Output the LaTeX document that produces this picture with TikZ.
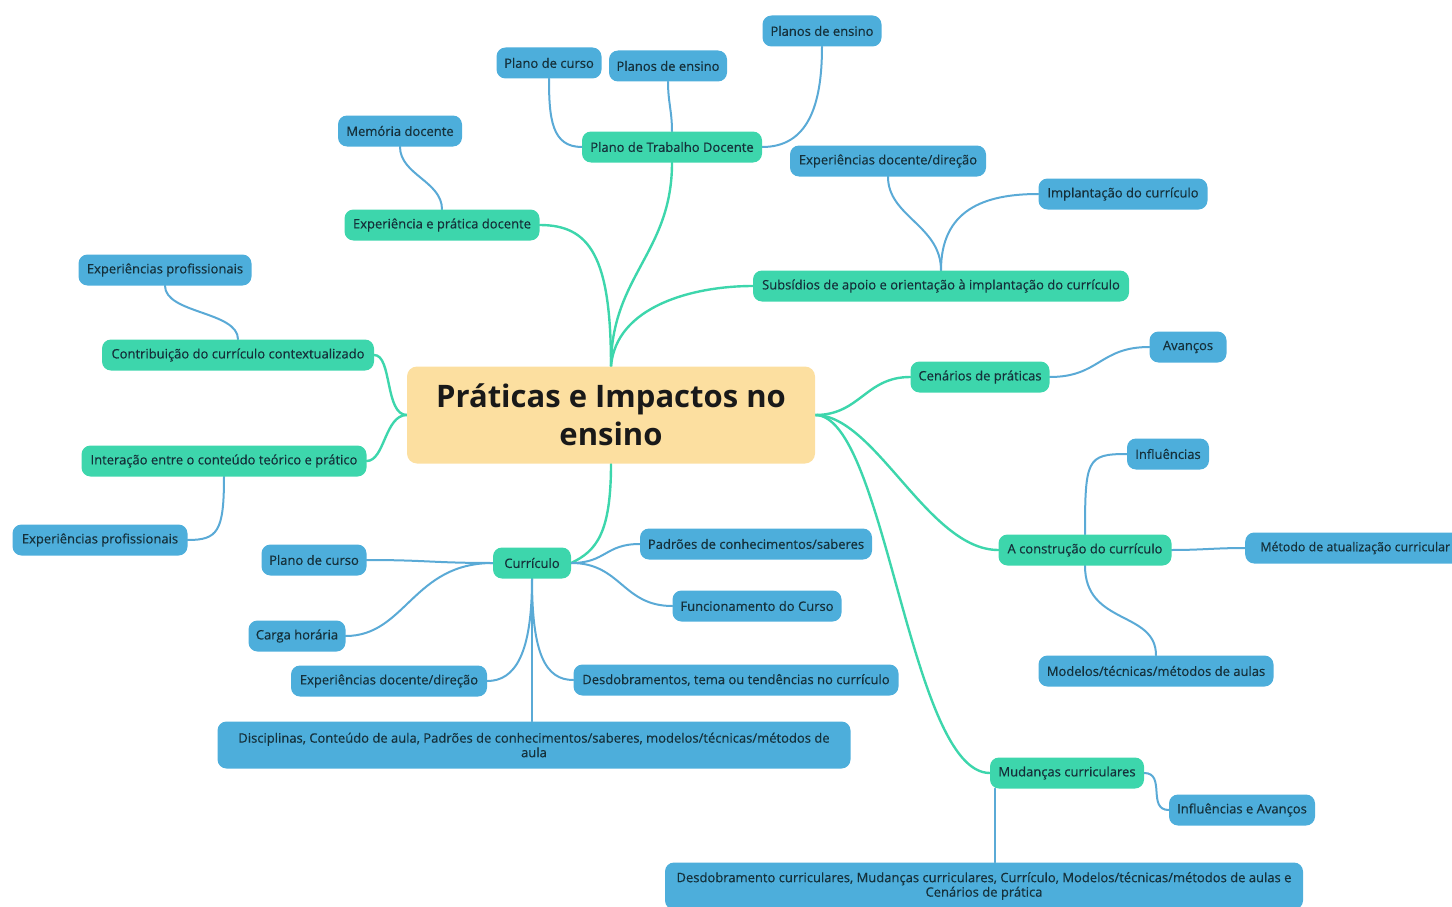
\documentclass[tikz,border=0pt]{standalone}
\usepackage{fontspec}
\setmainfont{Open Sans}
\newfontfamily\nodefont[FakeBold=0.35]{Open Sans}
\usetikzlibrary{backgrounds}
\definecolor{gfill}{HTML}{3DD6AC}
\definecolor{bfill}{HTML}{4DAEDB}
\definecolor{rfill}{HTML}{FCDFA0}
\definecolor{gline}{HTML}{3DD6AC}
\definecolor{bline}{HTML}{5AAAD6}
\definecolor{tcol}{HTML}{15303A}
\tikzset{
  base/.style={rounded corners=9pt, minimum height=31pt, inner xsep=6pt, inner ysep=3pt, text=tcol, font=\nodefont\fontsize{13}{15}\selectfont, align=center},
  gn/.style={base, fill=gfill},
  bn/.style={base, fill=bfill},
  gcon/.style={draw=gline, line width=2.4pt, line cap=round},
  bcon/.style={draw=bline, line width=2pt, line cap=round},
}
\begin{document}
\begin{tikzpicture}[x=1pt,y=-1pt]
\useasboundingbox (0,0) rectangle (1452,907);
% root
\node[fill=rfill, rounded corners=10pt, minimum width=408pt, minimum height=97pt, align=center, font=\fontsize{31}{38}\selectfont\bfseries, text=black!90] (root) at (611,415) {Práticas e Impactos no\\ensino};
% green nodes
\node[gn, minimum width=180] (ptd) at (672,147) {Plano de Trabalho Docente};
\node[gn, minimum width=195] (exp) at (442,225) {Experiência e prática docente};
\node[gn, minimum width=376] (sub) at (941,286) {Subsídios de apoio e orientação à implantação do currículo};
\node[gn, minimum width=272] (con) at (238,355) {Contribuição do currículo contextualizado};
\node[gn, minimum width=285] (int) at (224,461) {Interação entre o conteúdo teórico e prático};
\node[gn, minimum width=139] (cen) at (980,377) {Cenários de práticas};
\node[gn, minimum width=173] (cons) at (1085,550) {A construção do currículo};
\node[gn, minimum width=78] (cur) at (532,563) {Currículo};
\node[gn, minimum width=154] (mud) at (1067,773) {Mudanças curriculares};
% blue nodes
\node[bn, minimum width=105] (pc1) at (549,63) {Plano de curso};
\node[bn, minimum width=118] (pe1) at (668,66) {Planos de ensino};
\node[bn, minimum width=119] (pe2) at (822,31) {Planos de ensino};
\node[bn, minimum width=124] (mem) at (400,131) {Memória docente};
\node[bn, minimum width=196] (exd1) at (888,161) {Experiências docente/direção};
\node[bn, minimum width=169] (imp) at (1123,194) {Implantação do currículo};
\node[bn, minimum width=173] (ep1) at (165,270) {Experiências profissionais};
\node[bn, minimum width=77] (av) at (1188,347) {Avanços};
\node[bn, minimum width=82] (inf) at (1168,454) {Influências};
\node[bn, minimum width=220, anchor=west, inner xsep=7pt, font=\nodefont\fontsize{12.4}{15}\selectfont] (met) at (1245,548) {Método de atualização curricular};
\node[bn, minimum width=175] (ep2) at (100,540) {Experiências profissionais};
\node[bn, minimum width=105] (pc2) at (314,560) {Plano de curso};
\node[bn, minimum width=232] (pad) at (756,544) {Padrões de conhecimentos/saberes};
\node[bn, minimum width=169] (fun) at (757,606) {Funcionamento do Curso};
\node[bn, minimum width=97] (ch) at (297,636) {Carga horária};
\node[bn, minimum width=196] (exd2) at (389,681) {Experiências docente/direção};
\node[bn, minimum width=325] (des) at (736,680) {Desdobramentos, tema ou tendências no currículo};
\node[bn, minimum width=633, minimum height=47pt, font=\nodefont\fontsize{13}{14.5}\selectfont] (dis) at (534,745) {Disciplinas, Conteúdo de aula, Padrões de conhecimentos/saberes, modelos/técnicas/métodos de\\aula};
\node[bn, minimum width=235] (mod) at (1156,671) {Modelos/técnicas/métodos de aulas};
\node[bn, minimum width=146] (ia) at (1242,810) {Influências e Avanços};
\node[bn, minimum width=638, minimum height=47pt, font=\nodefont\fontsize{13}{14.5}\selectfont] (dd) at (984,886) {Desdobramento curriculares, Mudanças curriculares, Currículo, Modelos/técnicas/métodos de aulas e\\Cenários de prática};
\begin{pgfonlayer}{background}
% root connectors
\draw[gcon] (root.north) .. controls +(0,-90) and +(0,90) .. (ptd.south);
\draw[gcon] (root.north) .. controls +(0,-110) and +(50,0) .. (exp.east);
\draw[gcon] (root.north) .. controls +(5,-60) and +(-60,0) .. (sub.west);
\draw[gcon] (root.west) .. controls +(-22,0) and +(18,0) .. (con.east);
\draw[gcon] (root.west) .. controls +(-22,0) and +(18,0) .. (int.east);
\draw[gcon] (root.east) .. controls +(45,0) and +(-45,0) .. (cen.west);
\draw[gcon] (root.east) .. controls +(60,0) and +(-70,0) .. (cons.west);
\draw[gcon] (root.east) .. controls +(70,0) and +(-80,0) .. (mud.west);
\draw[gcon] (root.south) .. controls +(0,70) and +(25,-12) .. (cur.east);
% blue connectors
\draw[bcon] (ptd.west) .. controls +(-30,0) and +(0,40) .. (pc1.south);
\draw[bcon] (ptd.north) .. controls +(0,-20) and +(0,20) .. (pe1.south);
\draw[bcon] (ptd.east) .. controls +(45,0) and +(0,60) .. (pe2.south);
\draw[bcon] (exp.north) .. controls +(0,-28) and +(0,28) .. (mem.south);
\draw[bcon] (sub.north) .. controls +(0,-45) and +(0,40) .. (exd1.south);
\draw[bcon] (sub.north) .. controls +(0,-60) and +(-55,0) .. (imp.west);
\draw[bcon] (con.north) .. controls +(0,-28) and +(0,28) .. (ep1.south);
\draw[bcon] (int.south) .. controls +(0,55) and +(30,0) .. (ep2.east);
\draw[bcon] (cen.east) .. controls +(50,0) and +(-50,0) .. (av.west);
\draw[bcon] (cons.north) .. controls +(0,-75) and +(-40,0) .. (inf.west);
\draw[bcon] (cons.east) .. controls +(30,0) and +(-30,0) .. (met.west);
\draw[bcon] (cons.south) .. controls +(0,60) and +(0,-45) .. (mod.north);
\draw[bcon] (cur.west) .. controls +(-60,0) and +(60,0) .. (pc2.east);
\draw[bcon] (cur.west) .. controls +(-80,0) and +(60,0) .. (ch.east);
\draw[bcon] (cur.south) .. controls +(0,75) and +(28,0) .. (exd2.east);
\draw[bcon] (cur.south) -- (cur.south |- dis.north);
\draw[bcon] (cur.south) .. controls +(0,75) and +(-28,0) .. (des.west);
\draw[bcon] (cur.east) .. controls +(35,0) and +(-35,0) .. (pad.west);
\draw[bcon] (cur.east) .. controls +(50,0) and +(-50,0) .. (fun.west);
\draw[bcon] (mud.east) .. controls +(22,0) and +(-22,0) .. (ia.west);
\draw[bcon] ([xshift=5pt]mud.south west) -- ([xshift=5pt]mud.south west |- dd.north);
\end{pgfonlayer}
\end{tikzpicture}
\end{document}
